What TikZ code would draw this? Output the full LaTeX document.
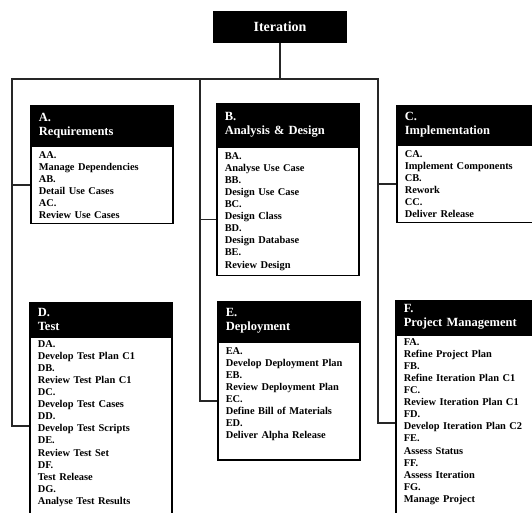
\documentclass[tikz,border=0pt]{standalone}
\usepackage{fontspec}
\setmainfont{Liberation Serif}
\usetikzlibrary{positioning}

\begin{document}
\begin{tikzpicture}[x=1pt,y=-1pt,
  wire/.style={draw=black!85,line width=1.3pt},
  topbox/.style={rectangle,fill=black,draw=black,line width=1.5pt,text=white,
    minimum width=132pt,minimum height=30pt,font=\bfseries\fontsize{14}{16}\selectfont},
  headbox/.style={rectangle,fill=black,draw=black,line width=1.5pt,text=white,
    anchor=north west,text width=126pt,inner xsep=8pt,align=left,
    font=\bfseries\fontsize{12.5}{14}\selectfont},
  bodybox/.style={rectangle,draw=black,fill=white,line width=1.5pt,
    text width=126pt,inner xsep=8pt,inner ysep=5pt,align=left,
    font=\bfseries\fontsize{10.4}{12.1}\selectfont},
  longbody/.style={bodybox,inner ysep=3pt},
]
\useasboundingbox (0,0) rectangle (532,513);
\clip (0,0) rectangle (532,513);
% root
\node[topbox] (it) at (280,27) {Iteration};
% bus
\coordinate (bl) at (12,79);
\coordinate (bm) at (200,79);
\coordinate (br) at (378,79);
% top row
\node[headbox,minimum height=39pt] (ah) at (30,105) {A.\\Requirements};
\node[bodybox,below=0pt of ah] (ab) {AA.\\Manage Dependencies\\AB.\\Detail Use Cases\\AC.\\Review Use Cases};
\node[headbox,minimum height=42pt] (bh) at (216,103) {B.\\Analysis \& Design};
\node[bodybox,below=0pt of bh] (bb) {BA.\\Analyse Use Case\\BB.\\Design Use Case\\BC.\\Design Class\\BD.\\Design Database\\BE.\\Review Design};
\node[headbox,minimum height=38pt] (ch) at (396,105) {C.\\Implementation};
\node[bodybox,below=0pt of ch] (cb) {CA.\\Implement Components\\CB.\\Rework\\CC.\\Deliver Release};
% bottom row
\node[headbox,minimum height=33pt] (dh) at (29,302) {D.\\Test};
\node[longbody,below=0pt of dh] (db) {DA.\\Develop Test Plan C1\\DB.\\Review Test Plan C1\\DC.\\Develop Test Cases\\DD.\\Develop Test Scripts\\DE.\\Review Test Set\\DF.\\Test Release\\DG.\\Analyse Test Results\\~};
\node[headbox,minimum height=39pt] (eh) at (217,301) {E.\\Deployment};
\node[bodybox,below=0pt of eh] (eb) {EA.\\Develop Deployment Plan\\EB.\\Review Deployment Plan\\EC.\\Define Bill of Materials\\ED.\\Deliver Alpha Release\\[4pt]~};
\node[headbox,minimum height=33pt] (fh) at (395,300) {F.\\Project Management};
\node[longbody,below=0pt of fh] (fb) {FA.\\Refine Project Plan\\FB.\\Refine Iteration Plan C1\\FC.\\Review Iteration Plan C1\\FD.\\Develop Iteration Plan C2\\FE.\\Assess Status\\FF.\\Assess Iteration\\FG.\\Manage Project\\~};
% connectors
\coordinate (bs) at ([yshift=-8pt]bb.west);
\coordinate (ds) at (db.west |- 0,426);
\coordinate (fs) at (fb.west |- 0,423);
\draw[wire] (it.south) -- (it.south |- bm);
\draw[wire] (ds) -| (bl) -- (br) |- (fs);
\draw[wire] (bl |- ab.west) -- (ab.west);
\draw[wire] (bm) |- (eb.west);
\draw[wire] (bm |- bs) -- (bs);
\draw[wire] (br |- cb.west) -- (cb.west);
\end{tikzpicture}
\end{document}
